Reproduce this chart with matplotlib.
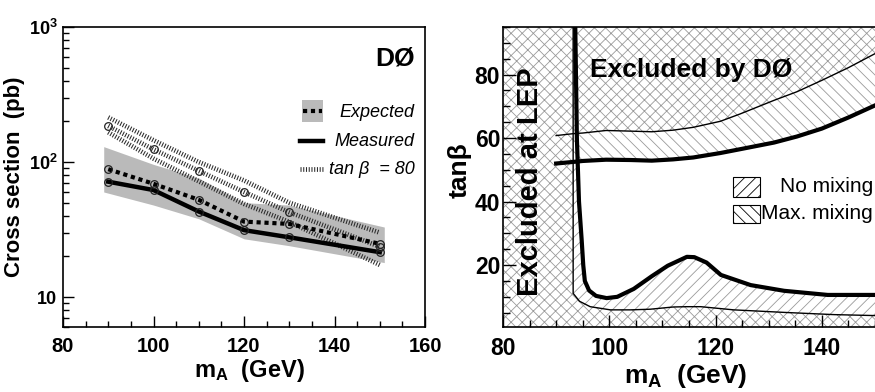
import numpy as np
import matplotlib
matplotlib.use('Agg')
import matplotlib.pyplot as plt
from matplotlib.patches import Rectangle
from matplotlib.lines import Line2D
from matplotlib.ticker import MultipleLocator, FixedLocator, FixedFormatter, LogLocator, NullFormatter

plt.rcParams['font.family'] = ['Liberation Sans', 'DejaVu Sans']
plt.rcParams['font.weight'] = 'bold'
plt.rcParams['mathtext.fontset'] = 'custom'
plt.rcParams['mathtext.rm'] = 'Liberation Sans:bold'
plt.rcParams['mathtext.bf'] = 'Liberation Sans:bold'
plt.rcParams['mathtext.it'] = 'Liberation Sans:italic:bold'
plt.rcParams['mathtext.default'] = 'rm'
plt.rcParams['hatch.linewidth'] = 0.6

# ---------------- left panel data ----------------
mass = [90, 100, 110, 120, 130, 150]
measured = [71.5, 62, 43, 31.3, 27.7, 21.5]
expected = [88.5, 69, 52.5, 36.2, 34.8, 24.8]
band_mass = [89, 100, 110, 120, 130, 151]
band_hi = [130, 96, 76, 50, 48, 33]
band_lo = [60, 48, 38, 27, 24, 18]
tb80 = [185, 124, 86, 60, 42.5, 23.6]
tb80_hi = [214, 145, 100, 73, 50, 30]
tb80_lo = [166, 106, 72, 49, 36, 17.3]

# ---------------- right panel data ----------------
lep_edge = 93.2
up_x = [90, 93.2, 95, 99.4, 104, 108, 112, 115.8, 120.9, 124.6, 131, 135.3, 140, 145, 150]
up_thin = [60.8, 61.4, 61.6, 62.4, 62.2, 62.0, 62.5, 63.4, 65.3, 67.6, 71.9, 74.6, 78.2, 82.2, 86.6]
up_thick = [52.0, 52.5, 52.8, 53.2, 53.1, 52.9, 53.3, 53.9, 55.3, 56.5, 58.6, 60.5, 63.0, 66.5, 70.3]

low_thin_x = [93.2, 93.2, 94.4, 96.4, 100.2, 104, 107.7, 112, 114.6, 117.2, 123.4, 132.9, 142.3, 150]
low_thin_y = [95, 11.1, 8.6, 6.9, 5.9, 5.9, 6.1, 6.8, 6.9, 6.9, 5.9, 5.1, 4.4, 4.1]

low_thick_x = [93.6, 93.9, 94.3, 94.8, 95.1, 95.4, 96.2, 97.5, 99.5, 101.5, 104.6, 108, 111,
               114.6, 116, 118.3, 121, 126.6, 132.9, 141.1, 150]
low_thick_y = [95, 60, 40, 28, 20, 15, 12, 10.3, 9.6, 10, 12.5, 16.5, 19.8,
               22.6, 22.5, 20.8, 16.9, 13.7, 11.9, 10.6, 10.6]

fig = plt.figure(figsize=(8.75, 3.92), dpi=100)

# ================= LEFT =================
ax = fig.add_axes([63/875, 65/392, 362/875, 300/392])
ax.set_yscale('log')
ax.set_xlim(80, 160)
ax.set_ylim(6.0, 1000)

ax.fill_between(band_mass, band_lo, band_hi, color='#bababa', lw=0, zorder=1)

dot_style = dict(color='#2a2a2a', lw=3.4, ls=(0, (0.22, 0.36)), dash_capstyle='butt', zorder=2)
ax.plot(mass, tb80_hi, **dot_style)
ax.plot(mass, tb80_lo, **dot_style)
ax.plot(mass, tb80, **dot_style)
ax.plot(mass, tb80, ls='none', marker='o', ms=5.5, mfc='none', mec='#222', mew=0.9, zorder=4)

ax.plot(mass, expected, color='black', lw=3.0, ls=(0, (1.0, 0.9)), dash_capstyle='butt', zorder=3)
ax.plot(mass, expected, ls='none', marker='o', ms=5.5, mfc='none', mec='#222', mew=0.9, zorder=4)
ax.plot(mass, measured, color='black', lw=3.2, zorder=3, solid_joinstyle='round')
ax.plot(mass, measured, ls='none', marker='o', ms=5.5, mfc='none', mec='#222', mew=0.9, zorder=4)

ax.xaxis.set_major_locator(MultipleLocator(20))
ax.xaxis.set_minor_locator(MultipleLocator(5))
ax.yaxis.set_major_locator(FixedLocator([10, 100, 1000]))
ax.yaxis.set_major_formatter(FixedFormatter(['10', r'$10^{2}$', r'$10^{3}$']))
ax.yaxis.set_minor_locator(LogLocator(base=10, subs=np.arange(2, 10)))
ax.yaxis.set_minor_formatter(NullFormatter())
ax.tick_params(which='both', direction='in', top=False, right=False, width=1.0)
ax.tick_params(which='major', length=8)
ax.tick_params(which='minor', length=4.5)
ax.tick_params(axis='x', labelsize=14.5, pad=7)
ax.tick_params(axis='y', labelsize=13, pad=4)
for sp in ax.spines.values():
    sp.set_linewidth(1.2)

ax.text(0.972, 0.873, 'DØ', transform=ax.transAxes, ha='right', va='baseline', fontsize=19)

# legend
ax.add_patch(Rectangle((0.660, 0.683), 0.058, 0.074, transform=ax.transAxes,
                       facecolor='#bababa', edgecolor='none'))
ax.add_line(Line2D([0.662, 0.716], [0.72, 0.72], transform=ax.transAxes,
                   color='black', lw=3.0, ls=(0, (1.0, 0.9)), dash_capstyle='butt'))
ax.add_line(Line2D([0.656, 0.718], [0.62, 0.62], transform=ax.transAxes, color='black', lw=3.2))
ax.add_line(Line2D([0.656, 0.718], [0.527, 0.527], transform=ax.transAxes,
                   color='#2a2a2a', lw=3.4, ls=(0, (0.22, 0.36)), dash_capstyle='butt'))
leg_kw = dict(transform=ax.transAxes, ha='right', va='center', fontsize=13,
              fontweight='normal', style='italic')
ax.text(0.972, 0.714, 'Expected', **leg_kw)
ax.text(0.972, 0.618, 'Measured', **leg_kw)
ax.text(0.972, 0.525, 'tan β  = 80', **leg_kw)

fig.text(15/875, (392-177)/392, 'Cross section  (pb)', rotation=90, ha='center', va='center', fontsize=16)
fig.text(249/875, (392-377)/392, r'm$_{\rm A}$  (GeV)', ha='center', va='baseline', fontsize=17)

# ================= RIGHT =================
bx = fig.add_axes([503/875, 65/392, 372/875, 300/392])
bx.set_xlim(80, 150)
bx.set_ylim(0.5, 95)
y0, y1 = bx.get_ylim()
hc = '#9a9a9a'

# background: excluded everywhere (cross hatch)
bx.fill_between([80, 150], y0, y1, facecolor='white', edgecolor=hc, hatch='xxx', lw=0, zorder=0)
# no-mixing LEP exclusion band (right of / above thin lower curve)
px = low_thin_x + [150]
py = low_thin_y + [y1]
bx.fill(px, py, facecolor='white', edgecolor=hc, hatch='///', lw=0, zorder=1)
# allowed region (right of / above thick lower curve)
qx = low_thick_x + [150]
qy = low_thick_y + [y1]
bx.fill(qx, qy, facecolor='white', edgecolor='none', lw=0, zorder=1.5)
# upper regions
ux = np.array(up_x)
m = ux >= lep_edge
bx.fill_between(ux[m], np.array(up_thin)[m], y1, facecolor='white', edgecolor=hc,
                hatch='xxx', lw=0, zorder=2)
bx.fill_between(ux[m], np.array(up_thick)[m], np.array(up_thin)[m], facecolor='white',
                edgecolor=hc, hatch='\\\\\\', lw=0, zorder=2)

bx.plot(up_x, up_thin, color='black', lw=1.0, zorder=3)
bx.plot(up_x, up_thick, color='black', lw=3.0, zorder=3)
bx.plot(low_thin_x, low_thin_y, color='black', lw=1.0, zorder=3)
bx.plot(low_thick_x, low_thick_y, color='black', lw=3.0, zorder=3)

bx.xaxis.set_major_locator(MultipleLocator(20))
bx.xaxis.set_minor_locator(MultipleLocator(5))
bx.yaxis.set_major_locator(MultipleLocator(20))
bx.yaxis.set_minor_locator(MultipleLocator(5))
bx.tick_params(which='both', direction='in', top=False, right=False, width=1.0)
bx.tick_params(which='major', length=9)
bx.tick_params(which='minor', length=5)
bx.tick_params(axis='x', labelsize=16.5, pad=7)
bx.tick_params(axis='y', labelsize=16.5, pad=2)
bx.spines['right'].set_visible(False)
for k in ['left', 'top', 'bottom']:
    bx.spines[k].set_linewidth(1.2)
    bx.spines[k].set_zorder(5)

bx.text(0.234, 0.833, 'Excluded by DØ', transform=bx.transAxes, ha='left', va='baseline',
        fontsize=19, zorder=6)
bx.text(0.0726, 0.484, 'Excluded at LEP', transform=bx.transAxes, ha='center', va='center',
        rotation=90, fontsize=21, zorder=6)

# legend
bx.add_patch(Rectangle((0.618, 0.433), 0.073, 0.067, transform=bx.transAxes,
                       facecolor='white', edgecolor='black', hatch='///', lw=0.8, zorder=6))
bx.add_patch(Rectangle((0.618, 0.347), 0.073, 0.060, transform=bx.transAxes,
                       facecolor='white', edgecolor='black', hatch='\\\\\\', lw=0.8, zorder=6))
bx.text(0.995, 0.467, 'No mixing', transform=bx.transAxes, ha='right', va='center',
        fontsize=15, fontweight='normal', zorder=6)
bx.text(0.995, 0.377, 'Max. mixing', transform=bx.transAxes, ha='right', va='center',
        fontsize=15, fontweight='normal', zorder=6)

fig.text(460/875, (392-170)/392, 'tanβ', rotation=90, ha='center', va='center', fontsize=19)
fig.text(686/875, (392-383)/392, r'm$_{\rm A}$  (GeV)', ha='center', va='baseline', fontsize=19)

fig.savefig('out.png', dpi=100)
